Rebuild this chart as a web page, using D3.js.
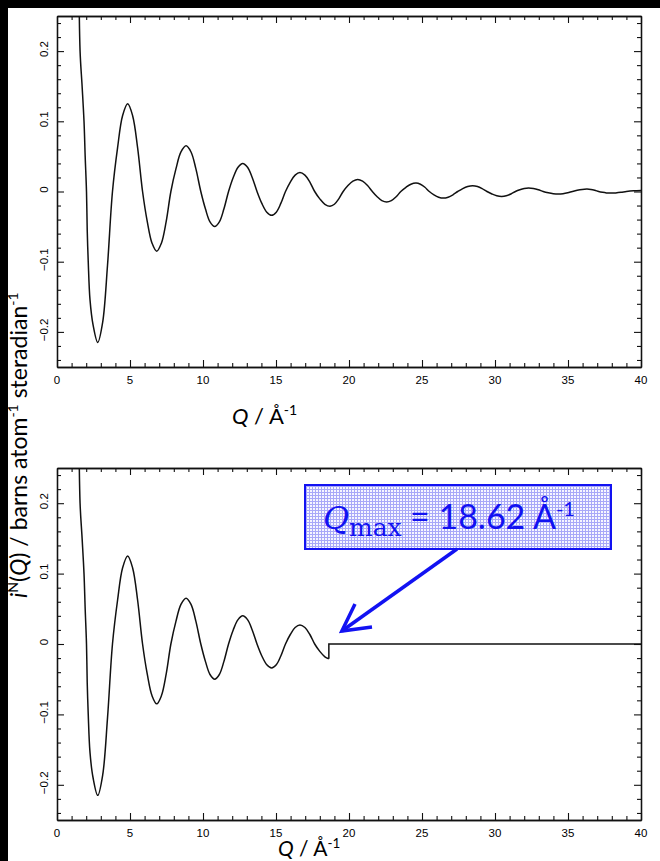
<!DOCTYPE html>
<html>
<head>
<meta charset="utf-8">
<script src="https://cdn.jsdelivr.net/npm/d3@7"></script>
<style>
  html, body { margin: 0; padding: 0; background: #000; }
  svg { display: block; }
</style>
</head>
<body>
<svg id="chart" width="660" height="861"></svg>
<script>
// i(Q), Q in 1/Angstrom
const qValues = [
  1.50, 1.58, 1.72, 1.85, 1.93, 2.02, 2.07, 2.14, 2.26, 2.47, 2.79,
  3.13, 3.46, 3.80, 4.15, 4.49, 4.84, 5.18, 5.52, 5.86, 6.18,
  6.51, 6.83, 7.15, 7.48, 7.80, 8.15, 8.49, 8.84, 9.18, 9.51,
  9.85, 10.17, 10.48, 10.80, 11.12, 11.43, 11.75, 12.07, 12.40, 12.72,
  13.05, 13.37, 13.70, 14.03, 14.37, 14.70, 15.02, 15.33, 15.65, 15.98,
  16.31, 16.64, 16.98, 17.32, 17.65, 18.00, 18.35, 18.70, 19.00, 19.30,
  19.60, 19.93, 20.27, 20.60, 20.93, 21.27, 21.60, 21.93, 22.25, 22.58,
  22.90, 23.23, 23.55, 23.90, 24.24, 24.59, 24.89, 25.20, 25.50, 25.82,
  26.14, 26.46, 26.79, 27.12, 27.45, 27.79, 28.13, 28.47, 28.80, 29.12,
  29.45, 29.79, 30.12, 30.46, 30.77, 31.09, 31.40, 31.70, 32.00, 32.30,
  32.63, 32.97, 33.30, 33.65, 33.99, 34.34, 34.66, 34.98, 35.30, 35.63,
  35.97, 36.30, 36.57, 36.83, 37.10, 37.37, 37.63, 37.90, 38.27, 38.63,
  39.00, 39.50, 40.00
];
const iValues = [
  0.31, 0.20, 0.15, 0.10, 0.05, 0.00, -0.055, -0.10, -0.154, -0.19, -0.215,
  -0.186, -0.105, 0.000, 0.0625, 0.108, 0.125, 0.108, 0.0625, 0.000, -0.0425,
  -0.0736, -0.085, -0.0736, -0.0425, 0.000, 0.0325, 0.0563, 0.065, 0.0563, 0.0325,
  0.000, -0.025, -0.0433, -0.050, -0.0433, -0.025, 0.000, 0.020, 0.0346, 0.040,
  0.0346, 0.020, 0.000, -0.017, -0.0294, -0.034, -0.0294, -0.017, 0.000, 0.0135,
  0.0234, 0.027, 0.0234, 0.0135, 0.000, -0.0105, -0.0182, -0.021, -0.0182, -0.0105,
  0.000, 0.0085, 0.0147, 0.017, 0.0147, 0.0085, 0.000, -0.0075, -0.013, -0.015,
  -0.013, -0.0075, 0.000, 0.006, 0.0104, 0.012, 0.0104, 0.006, 0.000, -0.0047,
  -0.0081, -0.0094, -0.0081, -0.0047, 0.000, 0.0042, 0.0072, 0.0083, 0.0072, 0.0042,
  0.000, -0.0035, -0.0061, -0.007, -0.0061, -0.0035, 0.000, 0.0025, 0.0043, 0.005,
  0.0043, 0.0025, 0.000, -0.0019, -0.0032, -0.0037, -0.0032, -0.0019, 0.000, 0.0017,
  0.0029, 0.0034, 0.0029, 0.0017, 0.000, -0.0012, -0.002, -0.0023, -0.002, -0.0012,
  0.000, 0.001, 0.0014
];

// truncated version: cut at Qmax, then zero
const qMax = 18.62;
const cutQ = [18.62, 18.62, 40];
const cutI = [-0.021, 0, 0];

const xMajor = [0, 5, 10, 15, 20, 25, 30, 35, 40];
const xMinor = d3.range(0, 41).filter((d) => d % 5 !== 0);
const yMajor = [-0.2, -0.1, 0, 0.1, 0.2];
const yMinor = d3.range(-24, 25, 2).filter((d) => d % 10 !== 0).map((d) => d / 100);

const blue = "#1212f2";
const svg = d3.select("#chart");

svg.append("rect")
  .attr("x", 8).attr("y", 8)
  .attr("width", 652).attr("height", 853)
  .attr("fill", "#fff");

const defs = svg.append("defs");
const pat = defs.append("pattern")
  .attr("id", "mesh")
  .attr("width", 3).attr("height", 3)
  .attr("patternUnits", "userSpaceOnUse");
pat.append("rect").attr("width", 3).attr("height", 3).attr("fill", "#f6f6ff");
pat.append("rect").attr("width", 3).attr("height", 1).attr("fill", "#a8a8f8");
pat.append("rect").attr("width", 1).attr("height", 3).attr("fill", "#a8a8f8");

const yFmt = (d) => (d === 0 ? "0" : d3.format(".1f")(d));

function drawPanel(id, top, bottom, parts) {
  const x = d3.scaleLinear().domain([0, 40]).range([57, 641]);
  const y = d3.scaleLinear().domain([-0.25, 0.25]).range([bottom, top]);
  const g = svg.append("g");

  defs.append("clipPath").attr("id", id)
    .append("rect")
    .attr("x", 57).attr("y", top)
    .attr("width", 584).attr("height", bottom - top);

  const axes = [
    [d3.axisBottom, `translate(0,${bottom})`, x],
    [d3.axisTop, `translate(0,${top})`, x],
    [d3.axisLeft, "translate(57,0)", y],
    [d3.axisRight, "translate(641,0)", y],
  ];
  axes.forEach(([axisFn, tr, sc]) => {
    const isX = sc === x;
    g.append("g").attr("transform", tr)
      .call(axisFn(sc).tickValues(isX ? xMinor : yMinor).tickSize(-4).tickSizeOuter(0).tickFormat(""));
    g.append("g").attr("transform", tr)
      .call(axisFn(sc).tickValues(isX ? xMajor : yMajor).tickSize(-7).tickSizeOuter(0).tickFormat(""));
  });
  g.selectAll(".domain").attr("stroke", "#111").attr("stroke-width", 1.3);
  g.selectAll(".tick line").attr("stroke", "#111").attr("stroke-width", 1.1);

  // x tick labels
  g.selectAll(".xlab")
    .data(xMajor)
    .join("text")
    .attr("x", (d) => x(d))
    .attr("y", bottom + 17)
    .attr("text-anchor", "middle")
    .attr("font-family", "Liberation Sans, Arial, sans-serif")
    .attr("font-size", 11.5)
    .attr("fill", "#000")
    .text((d) => d);

  // y tick labels, rotated
  g.selectAll(".ylab")
    .data(yMajor)
    .join("text")
    .attr("transform", (d) => `translate(48,${y(d) - 2}) rotate(-90)`)
    .attr("text-anchor", "middle")
    .attr("font-family", "Liberation Sans, Arial, sans-serif")
    .attr("font-size", 11.5)
    .attr("fill", "#000")
    .text(yFmt);

  const plot = g.append("g").attr("clip-path", `url(#${id})`);
  parts.forEach(([qs, vs, curve]) => {
    const line = d3.line()
      .x((d) => x(d[0]))
      .y((d) => y(d[1]))
      .curve(curve);
    plot.append("path")
      .datum(d3.zip(qs, vs))
      .attr("d", line)
      .attr("fill", "none")
      .attr("stroke", "#111")
      .attr("stroke-width", 1.5);
  });
  return { x, y };
}

function qLabel(px, py, size) {
  const t = svg.append("text")
    .attr("x", px).attr("y", py)
    .attr("font-family", "Lato, Open Sans, sans-serif")
    .attr("font-size", size)
    .attr("fill", "#000");
  t.append("tspan").attr("font-style", "italic").text("Q");
  t.append("tspan").text(" / Å");
  t.append("tspan").attr("font-size", size * 0.64).attr("dy", -size * 0.4).text("-1");
}

const smooth = d3.curveCatmullRom.alpha(0.5);

// top panel: full data
drawPanel("clipTop", 16, 367, [[qValues, iValues, smooth]]);

// bottom panel: data cut at Qmax
const keep = qValues.map((q, k) => k).filter((k) => qValues[k] < qMax);
const truncQ = keep.map((k) => qValues[k]).concat([cutQ[0]]);
const truncI = keep.map((k) => iValues[k]).concat([cutI[0]]);
const bot = drawPanel("clipBot", 468, 820, [
  [truncQ, truncI, smooth],
  [cutQ, cutI, d3.curveLinear],
]);

qLabel(232, 424, 22);
qLabel(278, 856, 21);

// y axis title
const yt = svg.append("text")
  .attr("transform", "translate(27,598) rotate(-90)")
  .attr("font-family", "Lato, Open Sans, sans-serif")
  .attr("font-size", 23)
  .attr("fill", "#000");
yt.append("tspan").attr("font-style", "italic").text("i");
yt.append("tspan").attr("font-size", 14).attr("dy", -9).text("N");
yt.append("tspan").attr("dy", 9).text("(");
yt.append("tspan").attr("font-style", "italic").text("Q");
yt.append("tspan").text(") / barns atom");
yt.append("tspan").attr("font-size", 14).attr("dy", -9).text("-1");
yt.append("tspan").attr("dy", 9).text(" steradian");
yt.append("tspan").attr("font-size", 14).attr("dy", -9).text("-1");

// annotation box with arrow
const ann = svg.append("g");
ann.append("rect")
  .attr("x", 305).attr("y", 485)
  .attr("width", 306).attr("height", 64)
  .attr("fill", "url(#mesh)")
  .attr("stroke", blue)
  .attr("stroke-width", 2);

const at = ann.append("text").attr("y", 529).attr("fill", blue);
at.append("tspan").attr("x", 323)
  .attr("font-family", "DejaVu Serif, serif")
  .attr("font-style", "italic")
  .attr("font-size", 32)
  .text("Q");
at.append("tspan").attr("x", 349).attr("dy", 7)
  .attr("font-family", "DejaVu Serif, serif")
  .attr("font-size", 25)
  .text("max");
at.append("tspan").attr("x", 410).attr("dy", -7)
  .attr("font-family", "Lato, Open Sans, sans-serif")
  .attr("font-size", 34)
  .text("= 18.62 Å");
at.append("tspan").attr("dy", -13)
  .attr("font-family", "Lato, Open Sans, sans-serif")
  .attr("font-size", 20)
  .text("-1");

const tip = [bot.x(qMax) + 13, bot.y(0) - 13];
ann.append("path")
  .attr("d", `M457,549 L${tip[0]},${tip[1]}`)
  .attr("stroke", blue).attr("stroke-width", 3.5).attr("fill", "none");
ann.append("path")
  .attr("d", `M355,604 L${tip[0]},${tip[1]} L372,627`)
  .attr("stroke", blue).attr("stroke-width", 3.5).attr("fill", "none")
  .attr("stroke-linejoin", "miter");
</script>
</body>
</html>
